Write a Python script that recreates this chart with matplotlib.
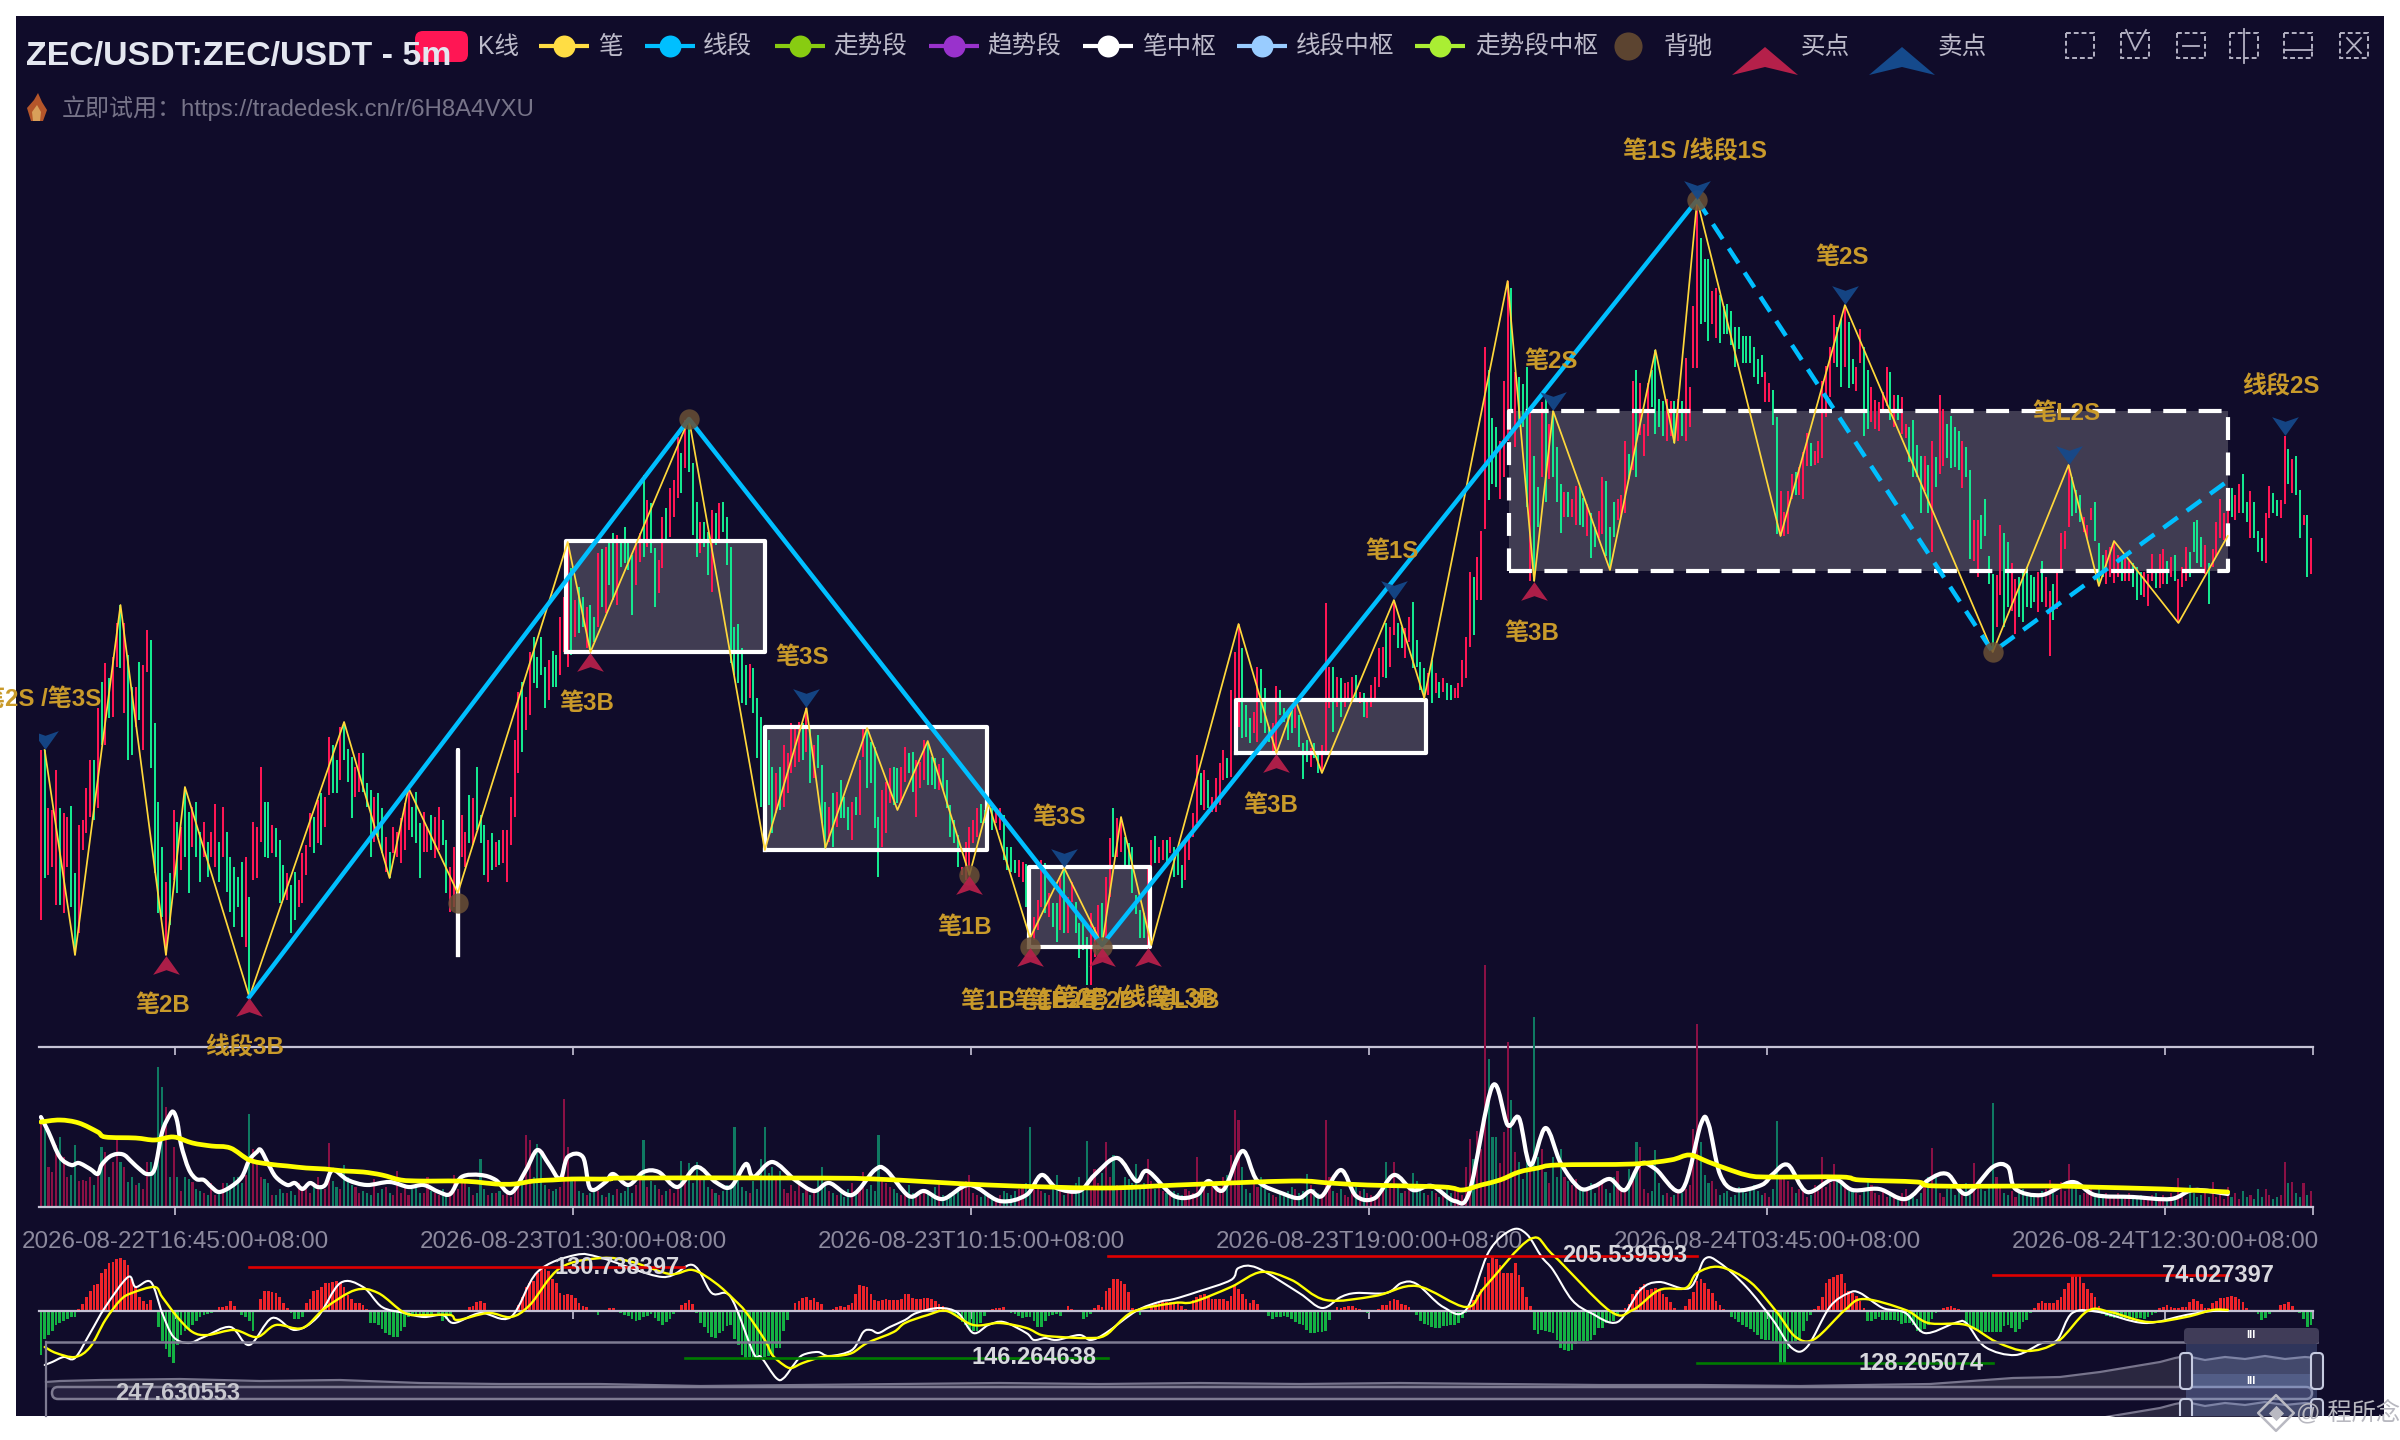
import numpy as np
import matplotlib
matplotlib.use('Agg')
import matplotlib.pyplot as plt
from matplotlib.patches import FancyBboxPatch, Rectangle, PathPatch
from matplotlib.path import Path

plt.rcParams['font.family'] = ['Liberation Sans', 'Noto Sans CJK SC', 'DejaVu Sans']

W, H = 2400, 1440
BG = '#100c2a'
UP = '#ff1654'
DOWN = '#14e88f'
VOL_UP = '#8b1045'
VOL_DOWN = '#0f7a62'
GOLD = '#c99a2a'
AXIS = '#c6c3d6'

title = 'ZEC/USDT:ZEC/USDT - 5m'
subtitle = '立即试用：https://tradedesk.cn/r/6H8A4VXU'
tick_pos = [35.5, 140.5, 245.5, 350.5, 455.5, 560.5, 599.5]
tick_labels = ['2026-08-22T16:45:00+08:00', '2026-08-23T01:30:00+08:00', '2026-08-23T10:15:00+08:00',
               '2026-08-23T19:00:00+08:00', '2026-08-24T03:45:00+08:00', '2026-08-24T12:30:00+08:00', '']

# candles (r = up, g = down)
highs = [297,297,239,237,277,239,234,230,241,174, 222,227,259,287,287,339,365,384,369,390,
         424,442,424,392,360,360,385,382,417,407, 324,245,200,165,174,237,225,220,260,235,
         240,245,215,225,205,215,243,205,240,215, 190,180,170,185,190,150,225,220,280,245,
         245,222,219,207,182,174,162,175,167,194, 202,234,230,247,254,250,310,302,287,320,
         325,298,290,280,294,294,264,257,250,254, 239,210,195,220,215,229,244,259,240,255,
         224,235,220,232,230,240,227,207,180,200, 245,232,215,252,249,280,232,222,207,214,
         205,207,217,217,250,307,355,365,350,395, 410,390,410,380,387,396,392,430,450,505,
         479,447,460,450,440,442,430,494,498,500, 504,514,512,507,520,507,492,504,514,572,
         547,544,499,487,530,539,559,567,610,594, 627,628,584,545,525,525,515,537,534,544,
         545,530,500,420,423,399,382,383,379,349, 330,314,307,280,274,280,302,294,324,322,
         325,324,339,319,302,312,282,245,240,254, 255,267,250,240,245,250,287,319,319,305,
         300,230,257,265,279,280,279,280,300,294, 295,287,285,307,304,290,289,283,289,267,
         242,227,212,180,205,220,227,239,243,237, 244,239,237,239,232,200,200,187,187,185,
         183,180,130,147,187,184,154,144,144,169, 179,150,165,145,124,124,110,134,120,142,
         144,170,209,239,229,230,210,204,200,152, 137,134,180,207,211,200,207,207,210,200,
         200,182,204,210,234,292,274,277,267,250, 269,284,297,289,357,395,423,399,342,329,
         335,380,378,359,320,324,361,357,339,337, 342,347,332,304,307,299,304,292,302,444,
         380,380,370,369,364,365,370,372,355,354, 345,362,370,399,400,424,420,447,424,420,
         419,430,445,407,385,379,374,387,374,365, 369,364,362,359,364,387,410,475,470,490,
         516,700,677,629,620,606,666,766,759,675, 670,663,680,636,591,560,645,648,623,636,
         600,563,555,555,548,561,560,549,543,534, 520,536,570,566,520,545,548,552,606,593,
         666,677,664,623,664,677,697,648,646,648, 646,646,648,646,689,660,741,847,809,788,
         788,756,759,752,741,743,736,720,720,711, 711,711,700,688,692,675,664,657,630,556,
         535,556,573,575,580,595,614,604,596,606, 666,681,700,732,720,728,742,725,688,680,
         718,700,677,660,647,645,655,680,675,652, 652,650,623,620,627,602,591,591,582,606,
         590,652,638,623,631,620,616,606,600,577, 527,527,532,548,491,473,472,522,514,505,
         484,468,470,475,480,472,470,475,486,470, 456,463,475,514,516,582,570,557,552,530,
         522,539,545,504,492,497,500,506,492,488, 493,486,484,480,475,475,473,493,477,493,
         498,486,490,492,468,480,500,495,525,527, 510,502,484,498,525,548,534,552,559,552,
         563,573,545,556,545,516,509,534,561,554, 547,547,611,598,588,591,557,532,532,509]
lows = [127,169,172,180,142,142,134,180,140,92, 114,197,214,230,227,239,302,302,329,330,
        380,379,334,287,292,320,327,297,375,279, 174,134,130,92,122,167,154,177,190,154,
        200,190,165,190,170,190,180,165,190,155, 135,120,140,110,100,50,167,169,205,190,
        189,194,190,144,147,147,114,127,140,144, 172,200,194,204,202,220,252,254,254,267,
        287,265,229,250,255,255,240,190,205,210, 194,175,169,194,190,184,197,217,210,204,
        169,195,195,197,189,197,202,154,135,140, 184,190,180,204,202,217,204,172,165,177,
        180,182,184,165,202,230,274,295,317,332, 364,359,372,339,347,360,360,372,395,380,
        392,410,414,420,399,395,405,420,440,434, 462,447,442,480,484,477,432,462,485,490,
        500,494,440,454,479,505,510,530,549,554, 579,575,512,490,494,500,472,455,502,507,
        515,482,384,372,364,344,342,349,334,289, 240,197,242,214,234,237,240,254,274,280,
        285,287,295,264,269,279,224,199,205,200, 220,229,229,217,207,232,232,290,259,264,
        219,170,200,214,244,242,244,244,265,274, 255,230,259,267,262,262,258,257,257,239,
        210,204,180,172,167,172,204,210,224,224, 212,217,224,217,187,177,175,174,170,165,
        140,107,107,117,140,134,130,120,105,117, 114,114,145,114,89,97,62,62,90,97,
        102,107,150,190,190,195,179,179,154,133, 109,109,100,179,184,184,187,184,194,170,
        172,159,167,187,210,224,242,237,239,235, 235,242,267,269,270,330,320,309,310,304,
        314,305,324,314,305,295,294,332,325,307, 314,319,300,268,285,280,289,274,274,294,
        339,315,340,330,340,345,347,347,344,330, 329,340,347,360,370,369,380,412,399,399,
        389,405,379,380,357,349,352,344,354,349, 355,347,347,349,349,360,369,400,412,447,
        447,518,547,563,560,548,570,606,638,600, 620,620,540,466,466,520,570,545,568,570,
        545,514,530,530,530,522,522,520,511,489, 500,509,513,491,477,510,527,530,534,568,
        577,570,612,591,611,640,613,620,611,606, 611,604,606,611,606,620,679,679,723,725,
        706,723,709,704,713,713,702,680,698,684, 684,684,670,663,670,645,645,622,513,511,
        511,513,548,552,552,548,581,581,582,584, 589,630,650,684,680,660,680,659,663,656,
        684,611,618,625,618,616,637,641,627,620, 627,613,609,585,570,570,534,556,534,495,
        560,573,581,589,579,580,577,559,570,488, 486,470,498,511,463,395,420,452,420,440,
        436,413,430,425,440,439,445,435,445,440, 391,427,438,475,498,520,531,534,525,515,
        509,527,506,461,470,463,470,464,470,466, 466,466,460,447,452,450,441,466,459,459,
        463,463,470,466,424,460,466,470,495,484, 480,473,443,480,490,509,507,520,530,527,
        534,534,525,509,509,495,486,484,529,534, 531,529,543,563,554,552,509,522,470,473]
dirs = ('rgrrrgrrgg' 'rrrrgrgrgr' 'rgrggrgrrg' 'gggrgrgrgg' 'rggrgrrgrg' 'ggggrgrrrg'
        'grgggrggrr' 'rrgrgrrggr' 'gggrrgggrg' 'grgrrrrrgg' 'grrgrrggrr' 'rrrgrgggrg'
        'rgrrrrrgrr' 'ggggrggrrr' 'grggrggrgr' 'ggrggggrrg' 'rggrrgrrrg' 'rgggrggrgr'
        'gggggggrgg' 'ggggrgrrrr' 'rgrgrgggrg' 'rgggrgrrgg' 'ggrrrggrrg' 'grrrgggrgg'
        'gggrrrrrgg' 'rgrrggggrr' 'ggrrrgrggr' 'grrggggrrr' 'grrgrrgggg' 'ggrrgrrgrg'
        'ggrrrrgrgr' 'rrrgrrrggg' 'rrgggrrggg' 'grgggrggrr' 'rgrgrrrgrg' 'rrrrrgrrgg'
        'rrggggrgrg' 'rggrrrrrgr' 'rrgggrrrgr' 'gggrggrgrg' 'ggrgrrggrg' 'grrgggrrrg'
        'rgrrrggggr' 'rgrgrrrrgg' 'grrggggggg' 'gggggrrggr' 'rrrgrrrgrr' 'rrrrggrggr'
        'rggrrrrrgr' 'grrggggrgr' 'grrggggrgg' 'rrggggrrgg' 'rrgggggrgr' 'rgrrrrgggr'
        'rrgggrrrrg' 'rrgggrrrgr' 'rgrgrrrggg' 'grgrrrrrgr' 'rggrgggrrg' 'grrgrggrgr')

# swing points of the 笔 line
bi_idx = [1,9,21,33,38,55,80,92,97,110,139,145,171,191,202,207,218,226,234,245,250,261,270,280,285,293,
          316,326,331,338,357,365,387,394,399,414,426,431,437,459,476,515,535,543,547,564,577]
bi_val = [297,92,442,92,260,50,325,169,259,154,505,395,628,197,339,199,319,237,306,172,244,109,179,102,230,102,
          423,294,347,274,447,349,766,466,636,477,697,604,847,511,742,395,582,461,506,424,511]

seg_idx = [55,171,280,437]
seg_val = [50,628,102,847]
seg_dash_idx = [437,515,577]
seg_dash_val = [847,395,566]

# pivot boxes
box_left = [138.5,191,260.7,315.3,387.3,110]
box_right = [191,249.6,292.6,365.4,577,110]
box_top = [506,320,180,347,636,297]
box_bottom = [395,197,100,294,476,92]
box_dashed = [False,False,False,False,True,False]

buy_idx = [33,55,145,245,261,280,292,326,394]
buy_val = [92,50,395,172,100,100,100,294,466]
sell_idx = [1,202,270,357,399,437,476,535,592]
sell_val = [297,339,179,447,636,847,742,582,611]
div_idx = [110,171,245,261,280,437,515]
div_val = [144,628,172,100,100,847,395]

volume = [85,78,40,35,62,70,50,30,32,62, 26,27,26,30,22,36,60,55,30,45,
          70,45,40,25,30,22,24,18,45,45, 42,140,120,100,30,60,30,16,30,28,
          25,18,16,14,12,24,12,16,24,24, 18,30,30,24,32,93,58,44,30,28,
          24,12,12,18,14,14,16,12,24,20, 18,14,20,30,22,18,64,26,20,18,
          42,30,22,20,14,16,14,12,28,14, 18,20,14,12,36,14,22,12,18,22,
          14,14,30,16,14,12,18,12,16,32, 18,24,26,20,12,14,48,18,12,14,
          14,16,12,14,10,16,22,30,72,67, 30,63,55,22,18,16,18,20,108,60,
          30,26,16,14,12,14,18,16,12,10, 14,12,18,14,16,20,14,22,30,67,
          20,26,22,18,12,16,18,14,22,46, 30,44,24,45,28,30,20,18,14,12,
          16,22,18,80,30,20,16,14,26,18, 48,80,34,40,28,36,18,14,22,16,
          24,14,20,12,18,30,40,22,16,14, 12,16,10,18,24,14,20,35,18,22,
          16,72,30,24,20,18,14,12,16,22, 14,10,12,18,16,14,20,24,12,10,
          14,12,18,22,26,32,14,12,10,12, 14,10,8,12,16,14,12,16,18,22,
          24,80,22,18,16,14,12,20,32,16, 12,14,18,24,30,16,66,20,38,24,
          34,65,30,52,22,18,30,28,24,43, 22,24,48,26,18,20,16,14,12,16,
          14,12,18,16,14,50,16,18,14,22, 26,20,30,32,52,97,87,40,18,14,
          24,20,30,18,14,12,10,14,12,16, 20,18,14,16,33,22,18,14,12,87,
          30,16,14,18,12,10,14,20,16,18, 14,12,10,16,20,45,22,45,20,14,
          16,18,34,26,20,14,12,16,14,10, 12,18,14,16,20,12,40,68,48,76,
          58,242,148,70,70,44,75,165,107,55, 45,28,45,40,190,50,58,35,24,50,
          30,58,30,26,22,28,20,16,18,24, 14,22,26,18,14,30,36,20,16,38,
          26,65,60,18,14,16,57,24,12,14, 10,12,16,14,18,22,78,183,65,32,
          24,26,18,12,14,16,10,12,20,16, 14,18,22,16,12,14,10,18,86,30,
          30,26,20,14,18,16,10,12,22,16, 50,20,24,43,30,25,22,16,18,14,
          12,18,28,22,14,12,16,10,14,12, 8,14,18,10,12,8,14,22,30,59,
          32,14,10,18,20,12,16,14,24,18, 44,25,18,16,20,104,30,22,14,12,
          16,10,14,18,12,10,12,14,16,18, 27,14,12,25,16,43,20,24,12,14,
          16,18,10,20,12,14,10,12,14,10, 12,14,8,10,12,10,8,12,14,10,
          12,8,14,10,29,12,8,22,14,10, 12,14,10,25,10,12,8,20,10,14,
          8,16,10,12,8,18,10,18,12,8, 10,12,45,24,25,14,10,24,12,16]

vol_fast_idx = [0,2,5,8,10,13,15,16,18,20,22,24,26,28,30,32,34,35,36,37,39,41,43,45,47,50,53,55,57,58,60,62,65,67,69,71,73,75,
                77,81,86,92,97,101,105,108,111,116,120,124,128,131,134,137,139,143,145,149,151,155,159,163,168,173,178,182,186,188,193,199,
                204,208,214,220,223,229,233,238,245,253,260,264,268,274,278,284,289,292,299,305,308,312,317,321,328,332,335,338,343,347,352,
                357,362,367,373,377,383,387,390,393,397,401,406,410,414,418,422,426,433,438,440,443,447,454,457,461,466,473,478,485,492,498,
                503,508,515,519,521,528,536,542,552,562,568,577]
vol_fast = [90,75,50,42,44,38,33,42,50,53,52,45,38,33,38,75,92,95,85,62,38,28,27,20,15,20,30,47,55,57,43,30,22,24,18,24,20,22,
            37,27,22,25,20,22,15,13,30,32,27,14,37,57,43,28,50,50,18,25,33,22,35,35,20,40,25,20,43,30,45,27,
            16,24,12,37,37,11,16,8,22,6,12,32,19,16,32,49,26,36,11,12,26,17,56,26,13,9,16,11,37,11,9,
            32,17,21,6,16,121,82,89,42,79,44,19,21,28,17,43,38,17,83,83,33,17,22,33,42,15,28,17,18,8,27,
            33,13,40,40,18,12,25,12,10,8,17,13]
vol_slow_idx = [0,5,10,15,17,25,30,35,40,45,50,55,60,65,70,75,80,85,90,95,100,105,110,115,120,125,130,135,140,145,150,155,
                200,220,250,280,300,330,340,350,370,375,380,385,390,395,400,420,430,435,440,445,450,455,475,480,495,500,530,540,560,577]
vol_slow = [85,87,84,75,70,69,67,70,64,61,59,47,43,41,39,38,36,35,32,27,26,26,26,25,23,23,26,27,28,28,28,29,
            29,28,22,19,22,26,24,22,20,17,22,27,35,39,42,43,47,52,45,38,32,30,30,27,25,21,21,20,18,15]

macd_hist = [-44,-28,-24,-20,-14,-12,-10,-8,-6,-6, 2,7,14,20,26,27,38,42,48,49,
             52,53,51,46,32,24,14,10,7,11, -1,-16,-30,-38,-46,-52,-34,-24,-20,-18,
             -14,-10,-6,-4,-3,-2,0,4,4,5, 10,5,1,-4,-6,-10,-20,0,12,20,
             20,19,18,14,8,3,-2,-8,-8,-6, 8,12,20,21,24,28,28,29,30,28,
             24,16,12,8,8,6,2,-12,-12,-14, -18,-22,-24,-26,-26,-20,-16,-6,-4,-3,
             -3,-3,-4,-3,-1,-4,-10,-8,-4,0, -1,-1,-1,4,5,9,10,8,1,-1,
             -1,-1,-1,-1,-1,-1,6,14,24,28, 30,38,44,42,40,32,28,18,16,17,
             16,13,8,5,4,0,-1,-4,1,0, 3,3,0,-2,-4,-5,-8,-10,-9,-6,
             -5,-3,-7,-10,-14,-11,-8,-3,0,6, 8,11,7,-2,-12,-16,-22,-26,-27,-22,
             -20,-15,-14,-28,-34,-44,-48,-46,-46,-46, -45,-46,-45,-45,-37,-37,-20,-9,0,8,
             10,13,14,11,13,9,7,1,0,2, 4,5,4,6,8,17,26,25,24,17,
             11,10,11,12,11,11,11,12,17,17, 13,12,12,13,13,12,10,7,5,2,
             1,-4,-7,-11,-14,-18,-20,-20,-12,-5, 0,2,3,3,4,1,-2,-3,-5,-7,
             -6,-6,-10,-16,-16,-10,-5,-4,-3,-5, 1,5,2,1,0,-8,-6,-3,3,6,
             4,20,23,32,32,30,27,19,3,2, -4,-1,0,6,7,8,9,9,9,9,
             8,5,2,1,11,14,16,17,14,12, 12,12,12,10,15,25,22,17,12,8,
             11,7,1,-1,-5,-8,-6,-6,-5,-6, -8,-11,-13,-14,-19,-22,-22,-21,-21,-20,
             -9,1,4,3,4,5,5,3,2,0, -2,-1,0,2,6,6,10,12,11,7,
             6,4,1,-4,-10,-13,-14,-16,-17,-17, -15,-15,-14,-14,-12,-7,-2,6,11,16,
             22,34,48,54,52,46,38,38,38,48, 36,24,14,5,-19,-23,-19,-20,-21,-22,
             -29,-37,-39,-40,-39,-33,-30,-30,-30,-29, -24,-17,-17,-12,-12,-10,-5,-1,3,7,
             17,21,24,27,21,22,23,21,17,14, 9,3,1,0,5,12,19,30,32,28,
             22,18,10,6,2,-1,-6,-8,-11,-14, -16,-18,-21,-24,-28,-29,-29,-30,-32,-52,
             -52,-38,-32,-30,-28,-20,-10,-4,2,5, 14,28,32,34,36,37,28,20,18,15,
             10,3,-10,-10,-8,-6,-9,-9,-9,-9, -10,-13,-12,-12,-14,-20,-21,-18,-14,-8,
             -2,0,3,4,5,3,2,1,-14,-17, -18,-20,-22,-21,-21,-21,-21,-21,-15,-14,
             -17,-21,-18,-11,-9,-2,3,8,10,8, 8,8,11,14,22,28,35,36,35,28,
             22,18,14,5,-3,-5,-6,-7,-6,-7, -7,-8,-7,-7,-7,-8,-6,-4,-2,3,
             4,6,4,3,3,4,4,9,12,10, 7,3,3,8,10,13,13,14,15,14,
             12,9,3,1,0,-3,-9,-7,-3,0, 0,6,7,9,5,0,-2,-8,-16,-14]

dea_idx = [1,4,9,13,17,21,24,30,32,36,40,44,51,57,62,69,75,83,89,96,101,108,110,118,124,129,137,148,156,166,172,178,183,186,191,193,196,198,201,206,210,214,
           218,225,228,234,239,246,253,260,264,269,276,281,288,299,304,314,322,330,339,352,363,376,381,393,399,414,420,427,434,437,443,451,458,463,468,476,481,
           492,498,508,516,524,532,540,546,556,566,573,577]
dea = [-36,-42,-46,-36,-9,11,18,24,14,-6,-21,-24,-19,-26,-14,-17,3,21,18,-2,-4,-4,-9,-2,-6,6,43,53,49,37,41,28,11,-1,-29,-44,-54,-57,-52,-46,-45,-42,
       -32,-21,-12,-4,0,-14,-12,-17,-24,-26,-27,-24,-1,8,9,24,39,31,11,15,25,4,24,72,56,0,1,21,23,38,44,29,-1,-26,-28,1,12,
       1,-12,-14,-31,-40,-31,0,-1,-11,-6,1,1]
dif_idx = [1,3,6,9,13,17,23,25,29,32,35,39,43,50,55,61,67,73,79,85,90,96,101,106,109,116,124,131,141,148,164,172,177,182,188,190,194,196,199,201,205,208,
           214,217,219,221,224,228,231,237,242,246,250,254,260,262,265,268,274,277,281,289,295,299,305,314,316,321,332,338,343,347,355,359,363,370,376,382,388,392,396,399,404,409,
           416,422,427,435,439,443,450,457,462,466,472,477,480,486,492,497,505,508,513,521,528,532,536,543,555,566,573,577]
dif = [-54,-51,-46,-47,-22,4,34,24,29,-2,-26,-32,-26,-16,-34,-7,-19,-6,28,24,4,-2,-6,-4,-12,-2,-6,39,56,53,34,46,18,14,-42,-46,-67,-67,-52,-44,-41,-45,
       -39,-21,-19,-22,-16,-9,-2,3,-2,-22,-14,-11,-22,-29,-27,-29,-24,-29,-22,0,9,12,19,31,43,43,18,3,14,18,18,28,27,4,1,59,81,77,54,41,11,-2,
       -11,21,29,23,52,48,24,-9,-37,-36,4,18,18,3,-2,-22,-12,-12,-36,-44,-32,-29,-2,-1,-12,-4,0,0]

# peak / trough marks of the MACD pane: value, first bar, last bar, label, label bar
max_val = [44,55,36]
max_from = [55,281.5,515]
max_to = [169.7,437,577]
max_text = ['130.738397','205.539593','74.027397']
max_at = [152,418,574.5]
min_val = [-47,-52]
min_from = [170,437]
min_to = [281.5,515]
min_text = ['146.264638','128.205074']
min_at = [262,496]
low_text = '247.630553'
low_at = 36
low_val = -83

legend_names = ['笔','线段','走势段','趋势段','笔中枢','线段中枢','走势段中枢']
legend_colors = ['#ffdd44','#00bfff','#88cc11','#9932cc','#ffffff','#99ccff','#aaee33']

# chart labels: text, x, y in picture pixels
chart_labels = [('笔2S /笔3S',101,700,'right'),('笔2B',163,1006,'center'),('线段3B',245,1048,'center'),
                ('笔3B',587,703,'center'),('笔3S',802,658,'center'),('笔1B',965,927,'center'),('笔3S',1059,817,'center'),
                ('笔1B /笔L2B',1030,1001,'center'),('笔1B /笔2B',1075,1001,'center'),('笔2B /线段L3B',1135,999,'center'),('笔L3B',1185,1001,'center'),
                ('笔3B',1271,805,'center'),('笔1S',1392,552,'center'),('笔3B',1532,633,'center'),('笔2S',1551,362,'center'),
                ('笔1S /线段1S',1695,152,'center'),('笔2S',1842,257,'center'),('笔L2S',2066,414,'center'),('线段2S',2281,387,'center')]

# slider data shadow
shadow_x = [46,60,100,180,260,340,420,500,600,700,800,900,1000,1100,1200,1300,1400,1500,1600,1700,1800,1863,1930,2013,2060,2100,2130,2160,2175,2186,2205,2225,2245,2265,2285,2305,2317]
shadow_y = [1382,1381,1380,1379,1381,1380,1383,1384,1384,1386,1385,1384,1383,1384,1383,1384,1383,1384,1385,1385,1386,1385,1384,1378,1377,1372,1367,1362,1358,1356,1360,1357,1359,1356,1359,1357,1358]


def add_axes(x0, y0, x1, y1):
    return fig.add_axes([x0 / W, 1 - y1 / H, (x1 - x0) / W, (y1 - y0) / H])


def smooth_line(axis, xs, ys, color, lw, zorder):
    # same rounded look as a smoothed line series, passes through every point read
    p = np.column_stack([xs, ys]).astype(float)
    verts = [p[0]]
    codes = [Path.MOVETO]
    for i in range(len(p) - 1):
        p0 = p[max(i - 1, 0)]
        p1 = p[i]
        p2 = p[i + 1]
        p3 = p[min(i + 2, len(p) - 1)]
        verts += [p1 + (p2 - p0) / 6, p2 - (p3 - p1) / 6, p2]
        codes += [Path.CURVE4, Path.CURVE4, Path.CURVE4]
    axis.add_patch(PathPatch(Path(verts, codes), fc='none', ec=color, lw=lw, zorder=zorder, capstyle='round', joinstyle='round'))


fig = plt.figure(figsize=(24, 14.4), dpi=100, facecolor='white')

# pixel space canvas behind everything
back = add_axes(0, 0, W, H)
back.set_xlim(0, W)
back.set_ylim(H, 0)
back.axis('off')
frame = Rectangle((16, 16), 2368, 1400, fc=BG, ec='none')
back.add_patch(frame)

x = np.arange(len(highs))
up_bars = np.array([d == 'r' for d in dirs])

ax = add_axes(39, 16, 2313, 1047)
ax.set_xlim(-0.5, 599.5)
ax.set_ylim(0, 1031)
ax.patch.set_alpha(0)
ax.set_yticks([])
for s in ['top', 'left', 'right']:
    ax.spines[s].set_visible(False)
ax.spines['bottom'].set_color(AXIS)
ax.spines['bottom'].set_linewidth(1.6)
ax.set_xticks(tick_pos, [''] * len(tick_pos))
ax.tick_params(axis='x', color=AXIS, length=6, width=1.2)

for l, r, t, b, dashed in zip(box_left, box_right, box_top, box_bottom, box_dashed):
    if r > l:
        ax.add_patch(Rectangle((l, b), r - l, t - b, fc='#403c52', ec='none', zorder=1))
ax.vlines(x[up_bars], np.array(lows)[up_bars], np.array(highs)[up_bars], color=UP, lw=1.2, zorder=2, antialiased=False)
ax.vlines(x[~up_bars], np.array(lows)[~up_bars], np.array(highs)[~up_bars], color=DOWN, lw=1.2, zorder=2, antialiased=False)
for l, r, t, b, dashed in zip(box_left, box_right, box_top, box_bottom, box_dashed):
    ax.plot([l, r, r, l, l], [b, b, t, t, b], color='white', lw=3, zorder=3,
            linestyle=(0, (5.5, 3)) if dashed else '-', solid_joinstyle='round', dash_capstyle='butt')
ax.plot(bi_idx, bi_val, color='#ffd83b', lw=1.25, zorder=4)
ax.plot(seg_idx, seg_val, color='#00bfff', lw=3.2, zorder=5)
ax.plot(seg_dash_idx, seg_dash_val, color='#00bfff', lw=3.2, zorder=5, linestyle=(0, (4, 2.5)))

arrow = Path([(0, 0.7), (1, -0.7), (0, -0.35), (-1, -0.7), (0, 0.7)])
arrow_down = Path([(0, -0.7), (1, 0.7), (0, 0.35), (-1, 0.7), (0, -0.7)])
ax.scatter(div_idx, div_val, s=215, color='#6a5035', alpha=0.85, linewidths=0, zorder=6, clip_on=False)
ax.scatter(buy_idx, np.array(buy_val) - 10, s=370, marker=arrow, color='#b5204a', alpha=0.95, linewidths=0, zorder=7)
ax.scatter(sell_idx, np.array(sell_val) + 10, s=370, marker=arrow_down, color='#154a8c', alpha=0.92, linewidths=0, zorder=7)

# volume pane
vax = add_axes(39, 1047, 2313, 1207)
vax.set_xlim(-0.5, 599.5)
vax.set_ylim(0, 160)
vax.patch.set_alpha(0)
vax.set_yticks([])
for s in ['top', 'left', 'right']:
    vax.spines[s].set_visible(False)
vax.spines['bottom'].set_color(AXIS)
vax.spines['bottom'].set_linewidth(1.6)
vax.bar(x, volume, width=0.55, color=[VOL_UP if u else VOL_DOWN for u in up_bars], clip_on=False, zorder=2)
smooth_line(vax, vol_fast_idx, vol_fast, 'white', 3, 3)
smooth_line(vax, vol_slow_idx, vol_slow, '#ffff00', 3.4, 4)
vax.set_xticks(tick_pos, tick_labels)
vax.tick_params(axis='x', color=AXIS, length=6, width=1.2, labelcolor='#8d8a9e', labelsize=17.4, pad=11)

# MACD pane
max_y = 89
mx = add_axes(39, 1222, 2313, 1400)
mx.set_xlim(-0.5, 599.5)
mx.set_ylim(-max_y, max_y)
mx.patch.set_alpha(0)
mx.set_yticks([])
for s in ['top', 'left', 'right']:
    mx.spines[s].set_visible(False)
mx.spines['bottom'].set_position(('data', 0))
mx.spines['bottom'].set_color(AXIS)
mx.spines['bottom'].set_linewidth(1.6)
mx.set_xticks(tick_pos, [''] * len(tick_pos))
mx.tick_params(axis='x', color=AXIS, length=6, width=1.2)
mx.bar(x, macd_hist, width=0.72, color=['#ef232a' if v >= 0 else '#14b143' for v in macd_hist], zorder=2)
smooth_line(mx, dif_idx, dif, 'white', 1.5, 3)
smooth_line(mx, dea_idx, dea, '#ffff00', 1.7, 4)
for v, a, b, t, at in zip(max_val, max_from, max_to, max_text, max_at):
    mx.plot([a, b], [v, v], color='#e00000', lw=1.9, zorder=5)
    mx.text(at, v, t, color='#d8d8de', fontsize=17, fontweight='bold', ha='center', va='center', zorder=6)
for v, a, b, t, at in zip(min_val, min_from, min_to, min_text, min_at):
    mx.plot([a, b], [v, v], color='#007a00', lw=1.9, zorder=5)
    mx.text(at, v, t, color='#d8d8de', fontsize=17, fontweight='bold', ha='center', va='center', zorder=6)

# everything else sits on a pixel space overlay
ov = add_axes(0, 0, W, H)
ov.set_xlim(0, W)
ov.set_ylim(H, 0)
ov.axis('off')
ov.patch.set_alpha(0)

ov.add_patch(FancyBboxPatch((421, 37), 41, 19, boxstyle='round,pad=6,rounding_size=8', fc='#ff1654', ec='none'))
ov.text(26, 56, title, color='#e4e7f0', fontsize=24.4, fontweight='bold', va='center')
ov.text(62, 108, subtitle, color='#777489', fontsize=17.3, va='center')
# little flame in front of the subtitle
flame = Path([(31, 121), (27, 108), (34, 100), (38, 93), (42, 102), (47, 110), (43, 121), (31, 121)])
ov.add_patch(PathPatch(flame, fc='#b5562a', ec='none'))
flame_in = Path([(33, 121), (32, 112), (37, 105), (41, 112), (40, 121), (33, 121)])
ov.add_patch(PathPatch(flame_in, fc='#d9a05a', ec='none'))

LEG = '#bdbbca'
LEG_SIZE = 17.7
LEG_Y = 47
ov.text(478, LEG_Y, 'K线', color=LEG, fontsize=LEG_SIZE, va='center')
icon_x = [564, 670, 800, 954, 1108, 1262, 1440]
text_x = [598, 703, 833, 987, 1142, 1296, 1475]
for name, col, ix, tx in zip(legend_names, legend_colors, icon_x, text_x):
    ov.plot([ix - 25, ix + 25], [46, 46], color=col, lw=3, solid_capstyle='butt')
    ov.scatter([ix], [46], s=250, color=col, linewidths=0, zorder=3)
    ov.text(tx, LEG_Y, name, color=LEG, fontsize=LEG_SIZE, va='center')
ov.scatter([1628], [46], s=410, color='#5c4430', linewidths=0)
ov.text(1664, LEG_Y, '背驰', color=LEG, fontsize=LEG_SIZE, va='center')
for cx, col, name, tx in [(1765, '#b5204a', '买点', 1801), (1902, '#154a8c', '卖点', 1937)]:
    ov.add_patch(PathPatch(Path([(cx, 47), (cx + 33, 75), (cx, 67), (cx - 33, 75), (cx, 47)]), fc=col, ec='none'))
    ov.text(tx, LEG_Y, name, color=LEG, fontsize=LEG_SIZE, va='center')

# toolbox icons
TOOL = '#b4b2c4'
dash = (0, (2.5, 1.5))
for cx in [2080, 2135, 2191, 2244, 2298, 2354]:
    ov.add_patch(Rectangle((cx - 14, 33), 28, 25, fc='none', ec=TOOL, lw=1.4, linestyle=dash))
ov.plot([2347, 2361], [38, 53], color=TOOL, lw=1.3)
ov.plot([2347, 2361], [53, 38], color=TOOL, lw=1.3)
ov.plot([2183, 2199], [46, 46], color=TOOL, lw=1.3)
ov.plot([2244, 2244], [29, 63], color=TOOL, lw=1.3)
ov.plot([2284, 2312], [50, 50], color=TOOL, lw=1.3)
ov.plot([2126, 2135, 2146], [30, 50, 30], color=TOOL, lw=1.3)

for text, px, py, ha in chart_labels:
    t = ov.text(px, py, text, color=GOLD, fontsize=17.3, fontweight='bold', ha=ha, va='center')
    t.set_clip_path(frame)

# the two overlapping range sliders at the bottom
SL = '#7e7b92'
shadow_x = np.array(shadow_x)
shadow_y = np.array(shadow_y)
for off in [0, 46]:
    fill = ov.fill_between(shadow_x, shadow_y + off, 1387 + off, color='#2a2740', lw=0, zorder=1)
    fill.set_clip_path(frame)
    ln, = ov.plot(shadow_x, shadow_y + off, color='#77748c', lw=1.6, zorder=2)
    ln.set_clip_path(frame)
ov.add_patch(FancyBboxPatch((52, 1387), 2260, 12, boxstyle='round,pad=0,rounding_size=6', fc='#262140', ec=SL, lw=1.8, zorder=2))
ov.plot([46, 2317], [1342, 1342], color=SL, lw=1.8, zorder=2)
ov.plot([46, 46], [1342, 1416], color=SL, lw=1.6, zorder=2)
sel = Rectangle((2186, 1342), 131, 74, fc='#8fb0f0', ec='none', alpha=0.25, zorder=3)
ov.add_patch(sel)
ov.add_patch(Rectangle((2186, 1374), 131, 14, fc='#8fb0f0', ec='none', alpha=0.2, zorder=3))
ov.add_patch(FancyBboxPatch((2186, 1330), 131, 12, boxstyle='round,pad=2,rounding_size=4', fc='#403c58', ec='none', zorder=4))
ov.text(2251, 1335, 'III', color='white', fontsize=8, ha='center', va='center', fontweight='bold', zorder=5)
ov.text(2251, 1381, 'III', color='white', fontsize=8, ha='center', va='center', fontweight='bold', zorder=5)
for hx in [2186, 2317]:
    for hy in [1352, 1398]:
        p = FancyBboxPatch((hx - 5, hy + 2), 10, 34, boxstyle='round,pad=1,rounding_size=4', fc='#30304c', ec='#c6cbe0', lw=1.5, zorder=5)
        ov.add_patch(p)
        p.set_clip_path(frame)
# this mark sits in front of the slider band
ov.text(low_at, low_val, low_text, transform=mx.transData, color='#c8c8cf', fontsize=17, fontweight='bold',
        ha='center', va='center', zorder=7)

# watermark
ov.scatter([2276], [1413], s=330, marker='D', facecolors='none', edgecolors='#b9b9c2', linewidths=1.8, zorder=6, clip_on=False)
ov.scatter([2276], [1413], s=60, marker='D', color='#b9b9c2', linewidths=0, zorder=6)
ov.text(2296, 1413, '@ 程所念', color='#b8b8c0', fontsize=17.5, va='center', zorder=6)

fig.savefig('out.png', dpi=100)
